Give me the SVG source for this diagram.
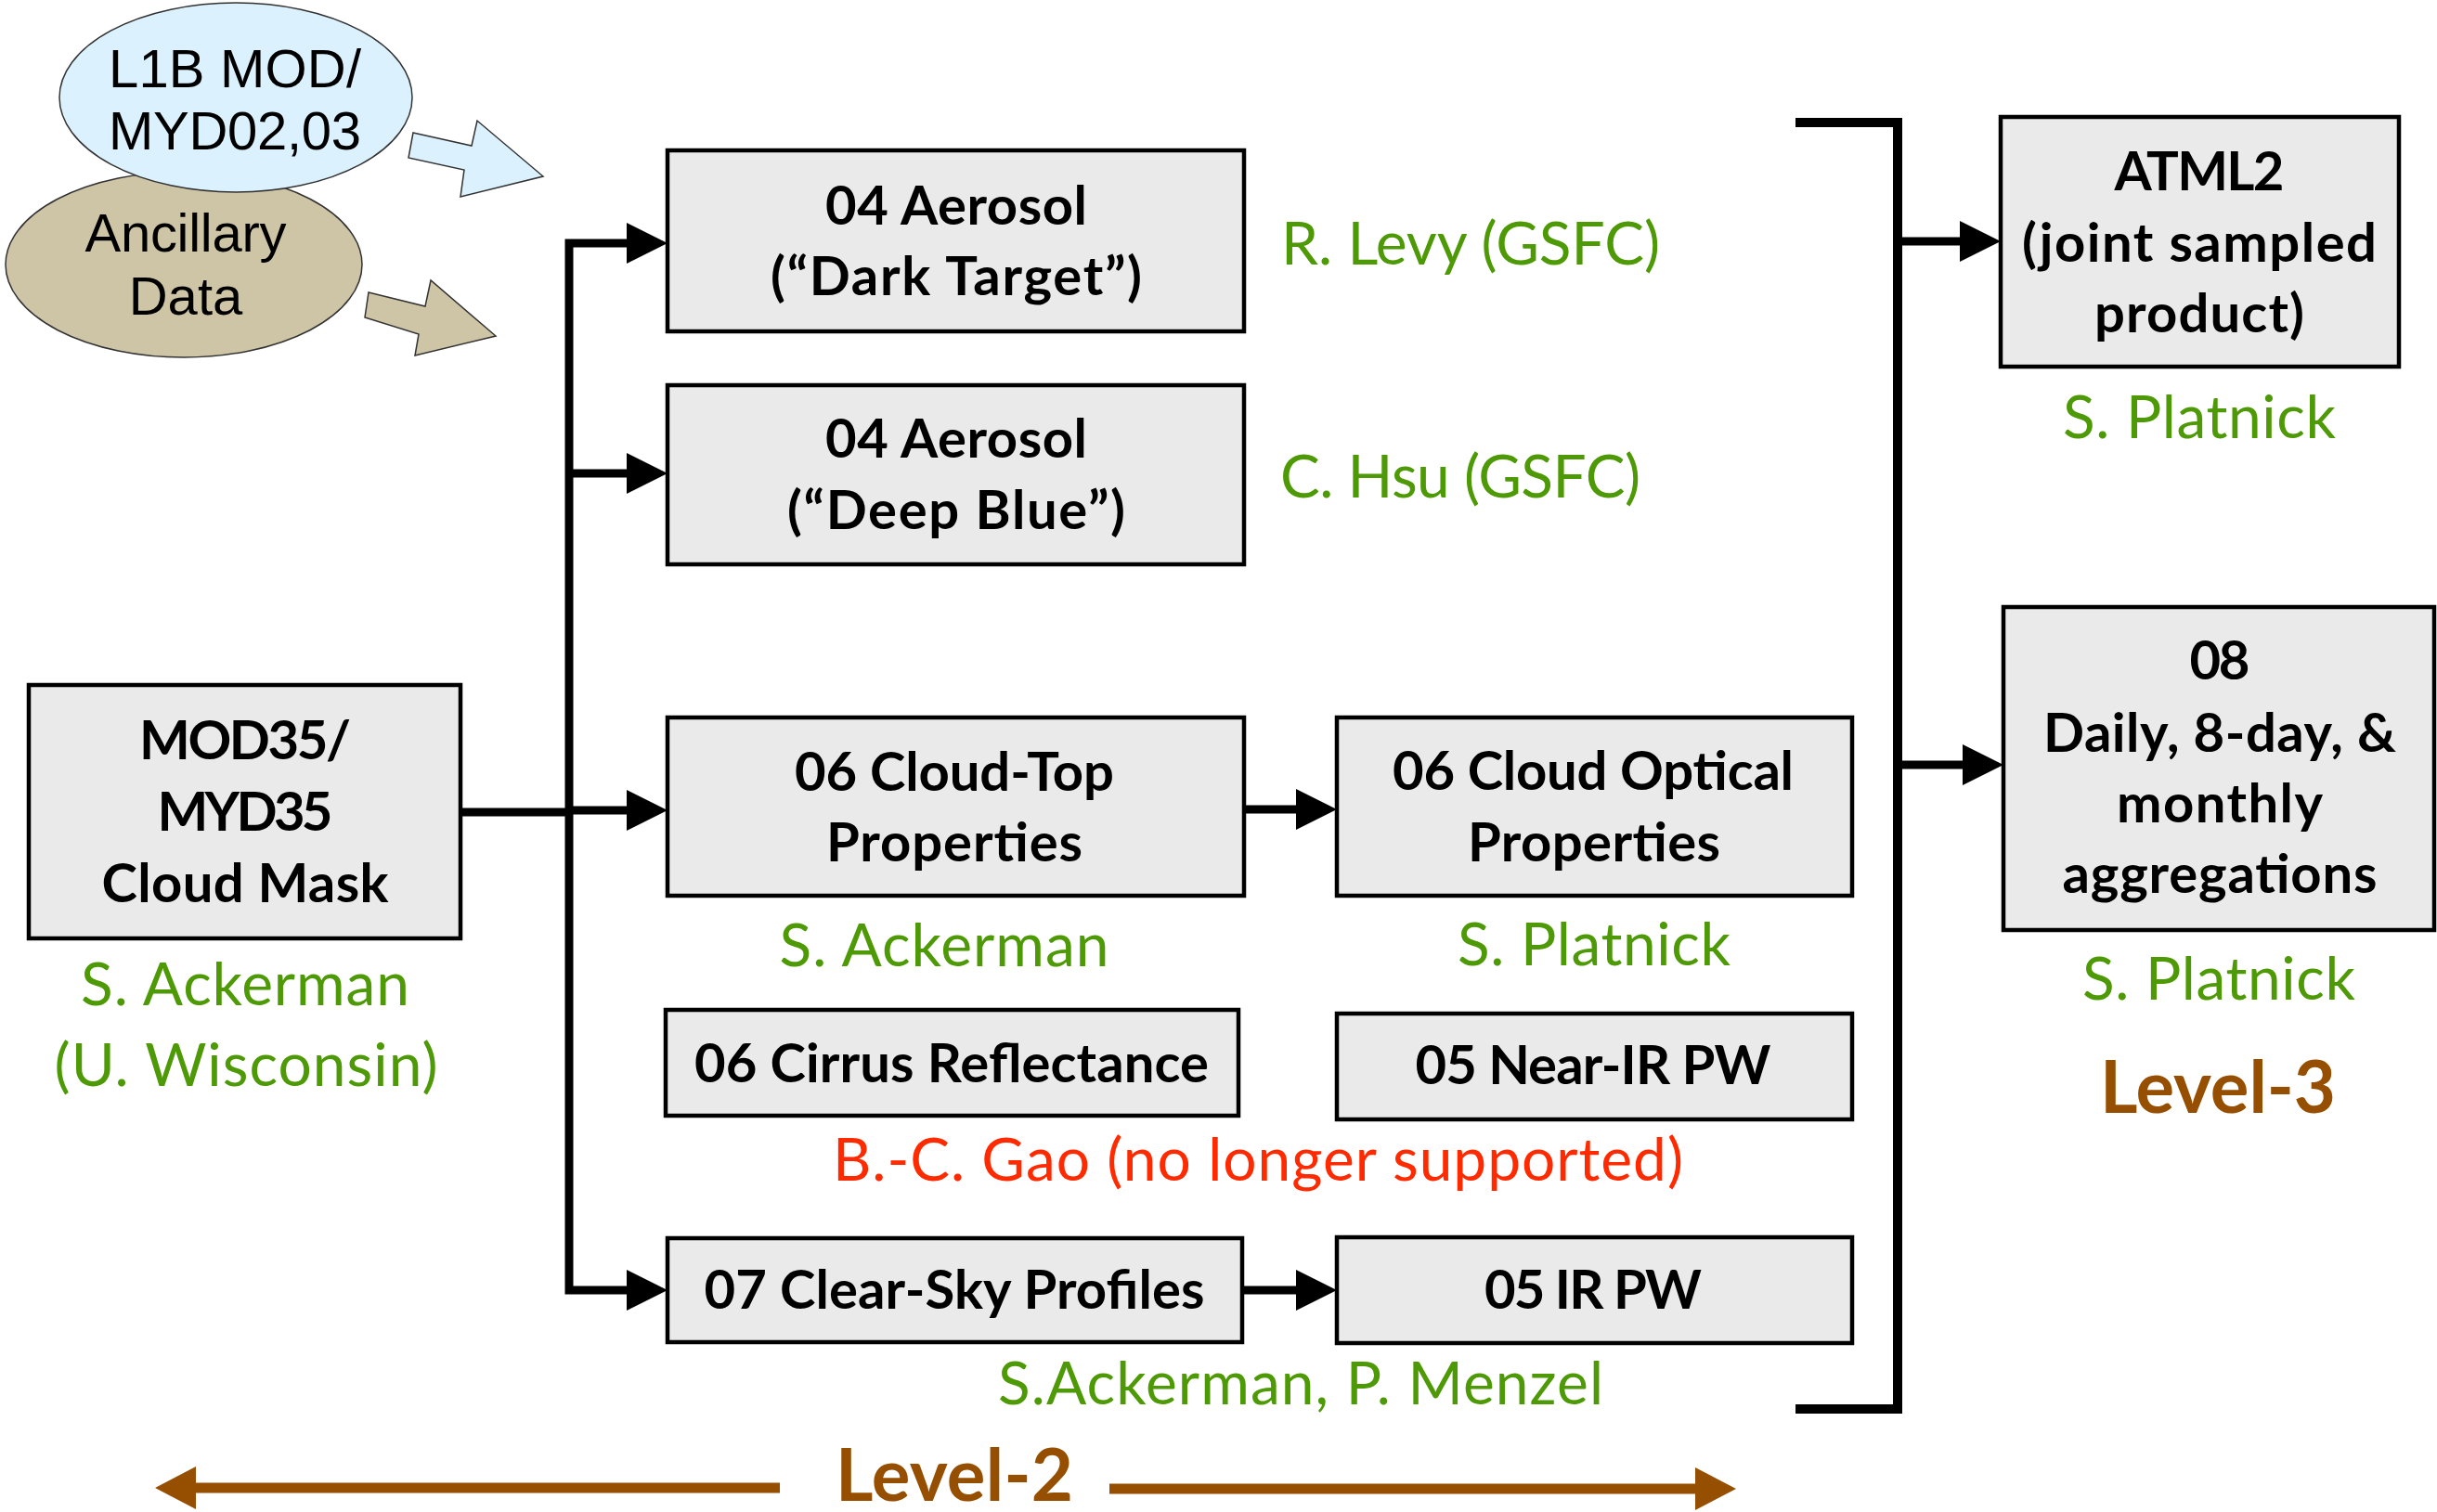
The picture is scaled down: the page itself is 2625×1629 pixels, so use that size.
<svg xmlns="http://www.w3.org/2000/svg" width="2625" height="1629" viewBox="0 0 2625 1629">
  <defs>
    <style>
      .box { fill: #eaeaea; stroke: #000; stroke-width: 4.5; }
      .bt { font-family: Lato, "Open Sans", "Liberation Sans", sans-serif; font-weight: 700; font-size: 58px; fill: #000; text-anchor: middle; }
      .who { font-family: Lato, "Open Sans", "Liberation Sans", sans-serif; font-size: 64px; fill: #4e9a06; }
      .gone { font-family: Lato, "Open Sans", "Liberation Sans", sans-serif; font-size: 64px; fill: #ff2a00; }
      .lvl { font-family: Lato, "Open Sans", "Liberation Sans", sans-serif; font-weight: 700; font-size: 78px; fill: #964f00; }
      .ell { font-family: "Liberation Sans", Arial, sans-serif; font-size: 58px; fill: #000; text-anchor: middle; }
      .wire { fill: none; stroke: #000; stroke-width: 9; }
      .brk { fill: none; stroke: #000; stroke-width: 10; }
      .lvlline { fill: none; stroke: #964f00; stroke-width: 11; }
    </style>
    <marker id="head" markerUnits="userSpaceOnUse" viewBox="0 0 44 44" markerWidth="44" markerHeight="44" refX="4" refY="22" orient="auto-start-reverse">
      <path d="M0,0 L44,22 L0,44 Z" fill="#000"/>
    </marker>
    <marker id="brownhead" markerUnits="userSpaceOnUse" viewBox="0 0 44 46" markerWidth="44" markerHeight="46" refX="4" refY="23" orient="auto-start-reverse">
      <path d="M0,0 L44,23 L0,46 Z" fill="#964f00"/>
    </marker>
  </defs>

  <!-- input data sources -->
  <g id="ancillary">
    <ellipse cx="198" cy="285" rx="192" ry="100" fill="#cec4a6" stroke="#333" stroke-width="1.5"/>
    <text class="ell" x="200" y="271" textLength="217">Ancillary</text>
    <text class="ell" x="200" y="339">Data</text>
    <polygon points="397,315 458,330 464,302 534,362 447,383 451,360 393,342" fill="#cec4a6" stroke="#333" stroke-width="1.5"/>
  </g>
  <g id="l1b">
    <ellipse cx="254" cy="105" rx="190" ry="102" fill="#dbf1fd" stroke="#333" stroke-width="1.5"/>
    <text class="ell" x="253" y="94" textLength="272">L1B MOD/</text>
    <text class="ell" x="253" y="161" textLength="272">MYD02,03</text>
    <polygon points="445,143 508,157 514,130 585,190 496,212 500,183 440,170" fill="#dbf1fd" stroke="#333" stroke-width="1.5"/>
  </g>

  <!-- connectors -->
  <g id="connectors">
    <path class="wire" d="M496,875 H613"/>
    <path class="wire" d="M679,262 H613 V1390 H679" marker-start="url(#head)" marker-end="url(#head)"/>
    <path class="wire" d="M613,510 H679" marker-end="url(#head)"/>
    <path class="wire" d="M613,873 H679" marker-end="url(#head)"/>
    <path class="wire" d="M1340,872 H1400" marker-end="url(#head)"/>
    <path class="wire" d="M1338,1390 H1400" marker-end="url(#head)"/>
    <path class="brk" d="M1934,132 H2044 V1518 H1934"/>
    <path class="wire" d="M2044,260 H2115" marker-end="url(#head)"/>
    <path class="wire" d="M2044,824 H2118" marker-end="url(#head)"/>
    <path class="lvlline" d="M840,1603 H207" marker-end="url(#brownhead)"/>
    <path class="lvlline" d="M1195,1604 H1830" marker-end="url(#brownhead)"/>
  </g>

  <g id="mod35">
    <rect class="box" x="31" y="738" width="465" height="273"/>
    <text class="bt" x="264" y="818" textLength="228">MOD35/</text>
    <text class="bt" x="264" y="895" textLength="189">MYD35</text>
    <text class="bt" x="264" y="972" textLength="309">Cloud Mask</text>
    <text class="who" x="264" y="1083" text-anchor="middle" textLength="354">S. Ackerman</text>
    <text class="who" x="265" y="1170" text-anchor="middle" textLength="413">(U. Wisconsin)</text>
  </g>

  <g id="aerosol-dt">
    <rect class="box" x="719" y="162" width="621" height="195"/>
    <text class="bt" x="1030" y="242" textLength="282">04 Aerosol</text>
    <text class="bt" x="1030" y="318" textLength="400">(“Dark Target”)</text>
    <text class="who" x="1380" y="285" textLength="408">R. Levy (GSFC)</text>
  </g>

  <g id="aerosol-db">
    <rect class="box" x="719" y="415" width="621" height="193"/>
    <text class="bt" x="1030" y="493" textLength="282">04 Aerosol</text>
    <text class="bt" x="1030" y="570" textLength="364">(“Deep Blue”)</text>
    <text class="who" x="1379" y="536" textLength="388">C. Hsu (GSFC)</text>
  </g>

  <g id="cloud-top">
    <rect class="box" x="719" y="773" width="621" height="192"/>
    <text class="bt" x="1028" y="852" textLength="344">06 Cloud-Top</text>
    <text class="bt" x="1028" y="928" textLength="276">Properties</text>
    <text class="who" x="1017" y="1041" text-anchor="middle" textLength="355">S. Ackerman</text>
  </g>

  <g id="cloud-optical">
    <rect class="box" x="1440" y="773" width="555" height="192"/>
    <text class="bt" x="1716" y="851" textLength="432">06 Cloud Optical</text>
    <text class="bt" x="1717" y="928" textLength="272">Properties</text>
    <text class="who" x="1717" y="1040" text-anchor="middle" textLength="294">S. Platnick</text>
  </g>

  <g id="cirrus">
    <rect class="box" x="717" y="1088" width="617" height="114"/>
    <text class="bt" x="1025" y="1166" textLength="554">06 Cirrus Reflectance</text>
  </g>

  <g id="near-ir">
    <rect class="box" x="1440" y="1092" width="555" height="114"/>
    <text class="bt" x="1716" y="1168" textLength="383">05 Near-IR PW</text>
  </g>

  <text class="gone" x="897" y="1272" textLength="916">B.-C. Gao (no longer supported)</text>

  <g id="clear-sky">
    <rect class="box" x="719" y="1334" width="619" height="112"/>
    <text class="bt" x="1028" y="1410" textLength="539">07 Clear-Sky Profiles</text>
  </g>

  <g id="ir-pw">
    <rect class="box" x="1440" y="1333" width="555" height="114"/>
    <text class="bt" x="1716" y="1410" textLength="234">05 IR PW</text>
  </g>

  <text class="who" x="1075" y="1513" textLength="652">S.Ackerman, P. Menzel</text>

  <g id="atml2">
    <rect class="box" x="2155" y="126" width="429" height="269"/>
    <text class="bt" x="2369" y="205" textLength="183">ATML2</text>
    <text class="bt" x="2369" y="282" textLength="382">(joint sampled</text>
    <text class="bt" x="2369" y="358" textLength="226">product)</text>
    <text class="who" x="2369" y="472" text-anchor="middle" textLength="294">S. Platnick</text>
  </g>

  <g id="l3-aggregations">
    <rect class="box" x="2158" y="654" width="464" height="348"/>
    <text class="bt" x="2391" y="732" textLength="65">08</text>
    <text class="bt" x="2391" y="810" textLength="380">Daily, 8-day, &amp;</text>
    <text class="bt" x="2391" y="886" textLength="222">monthly</text>
    <text class="bt" x="2391" y="962" textLength="339">aggregations</text>
    <text class="who" x="2390" y="1077" text-anchor="middle" textLength="294">S. Platnick</text>
  </g>

  <text class="lvl" x="2262" y="1199" textLength="254">Level-3</text>
  <text class="lvl" x="900" y="1617" textLength="256">Level-2</text>
</svg>
